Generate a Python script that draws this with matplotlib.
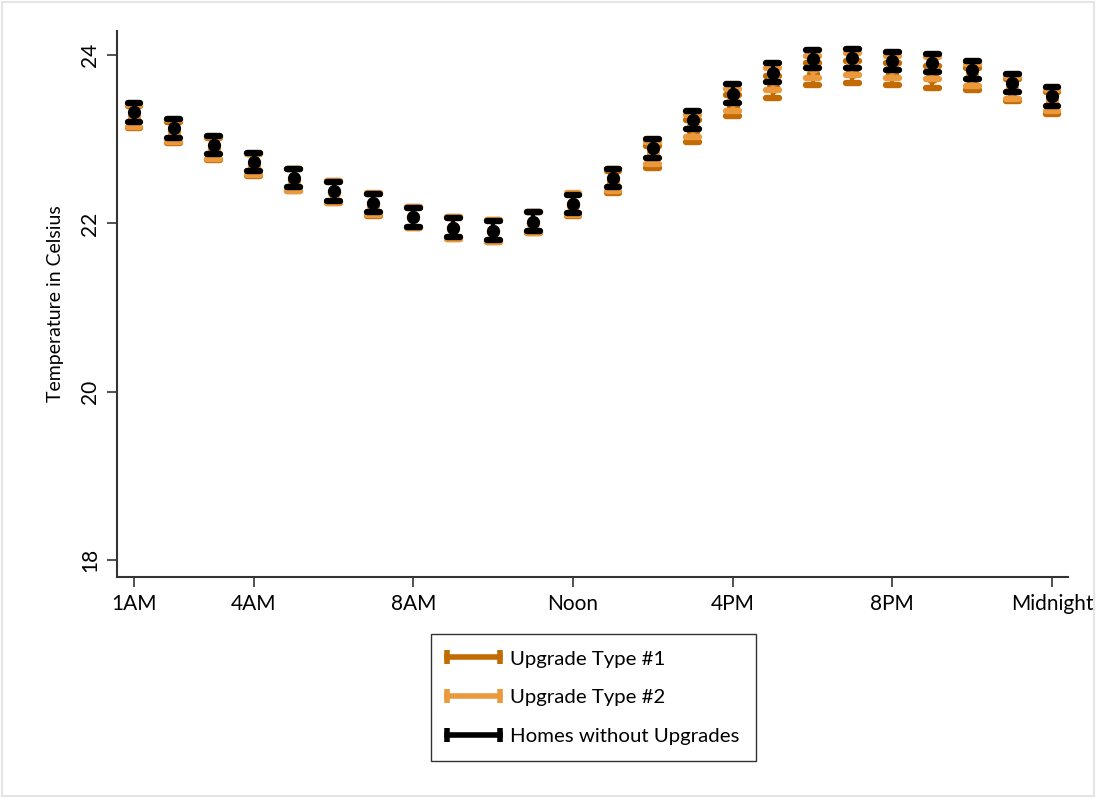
import matplotlib
matplotlib.use("Agg")
import matplotlib.pyplot as plt
from matplotlib.lines import Line2D
from matplotlib.legend_handler import HandlerLine2D
from matplotlib.patches import Rectangle
import numpy as np

plt.rcParams['font.family'] = ['Lato', 'DejaVu Sans']

hours = list(range(1, 25))
tick_hours = [1, 4, 8, 12, 16, 20, 24]
tick_labels = ['1AM', '4AM', '8AM', 'Noon', '4PM', '8PM', 'Midnight']

upgrade1_mean = [23.26, 23.08, 22.88, 22.69, 22.51, 22.37, 22.22, 22.07, 21.94, 21.91, 22.01, 22.22,
                 22.49, 22.79, 23.10, 23.40, 23.62, 23.77, 23.80, 23.77, 23.74, 23.71, 23.58, 23.43]
upgrade1_ci = [0.13] * 24
upgrade2_mean = [23.28, 23.10, 22.90, 22.70, 22.52, 22.37, 22.23, 22.07, 21.94, 21.91, 22.01, 22.23,
                 22.51, 22.84, 23.16, 23.47, 23.715, 23.86, 23.89, 23.86, 23.85, 23.76, 23.61, 23.46]
upgrade2_ci = [0.13] * 24
none_mean = [23.32, 23.13, 22.93, 22.73, 22.54, 22.38, 22.24, 22.07, 21.95, 21.915, 22.02, 22.23,
             22.54, 22.89, 23.23, 23.54, 23.79, 23.95, 23.96, 23.93, 23.905, 23.82, 23.67, 23.51]
none_ci = [0.11] * 24

series = [
    ('Upgrade Type #1', upgrade1_mean, upgrade1_ci, '#C26A04'),
    ('Upgrade Type #2', upgrade2_mean, upgrade2_ci, '#EA9A3C'),
    ('Homes without Upgrades', none_mean, none_ci, '#000000'),
]

fig = plt.figure(figsize=(10.96, 7.98), dpi=100)
ax = fig.add_axes([117/1096, 1 - 577/798, (1068 - 117)/1096, (577 - 31)/798])

cap_half = 0.16
handles = []
for i, (label, mean, ci, color) in enumerate(series):
    x = np.array(hours, dtype=float)
    m = np.array(mean)
    c = np.array(ci)
    z = 2 + i * 3
    ax.vlines(x, m - c, m + c, color=color, lw=3, zorder=z)
    ax.hlines(m + c, x - cap_half, x + cap_half, color=color, lw=4.6, capstyle='round', zorder=z + 1)
    ax.hlines(m - c, x - cap_half, x + cap_half, color=color, lw=4.6, capstyle='round', zorder=z + 1)
    ax.plot(x, m, 'o', color=color, ms=8.5, mec=color, zorder=z + 2)
    handles.append(Line2D([], [], color=color, lw=4, marker='|', ms=10, mew=4, label=label))

ax.set_xlim(0.575, 24.4)
ax.set_ylim(17.80, 24.285)
ax.set_xticks(tick_hours)
ax.set_xticklabels(tick_labels, fontsize=15)
ax.set_yticks([18, 20, 22, 24])
ax.set_yticklabels(['18', '20', '22', '24'], fontsize=15, rotation=90, va='center')
ax.tick_params(direction='out', length=7, width=1.2, color='#333333', pad=5)
for s in ['top', 'right']:
    ax.spines[s].set_visible(False)
for s in ['left', 'bottom']:
    ax.spines[s].set_color('#333333')
    ax.spines[s].set_linewidth(1.5)
ax.set_ylabel('Temperature in Celsius', fontsize=14, labelpad=12)

leg = fig.legend(handles=handles, loc='upper center', bbox_to_anchor=(593.5/1096, 1 - 634/798),
                 frameon=True, fancybox=False, fontsize=14.7, handlelength=2.6, handletextpad=0.5,
                 labelspacing=1.05, borderpad=0.8, borderaxespad=0,
                 handler_map={Line2D: HandlerLine2D(numpoints=2, marker_pad=0)})
leg.get_frame().set_edgecolor('black')
leg.get_frame().set_linewidth(1.0)

fig.patches.append(Rectangle((0.002, 0.002), 0.996, 0.995, transform=fig.transFigure,
                             fill=False, edgecolor='#e4e4e4', lw=1.5))

fig.savefig('out.png', dpi=100)
